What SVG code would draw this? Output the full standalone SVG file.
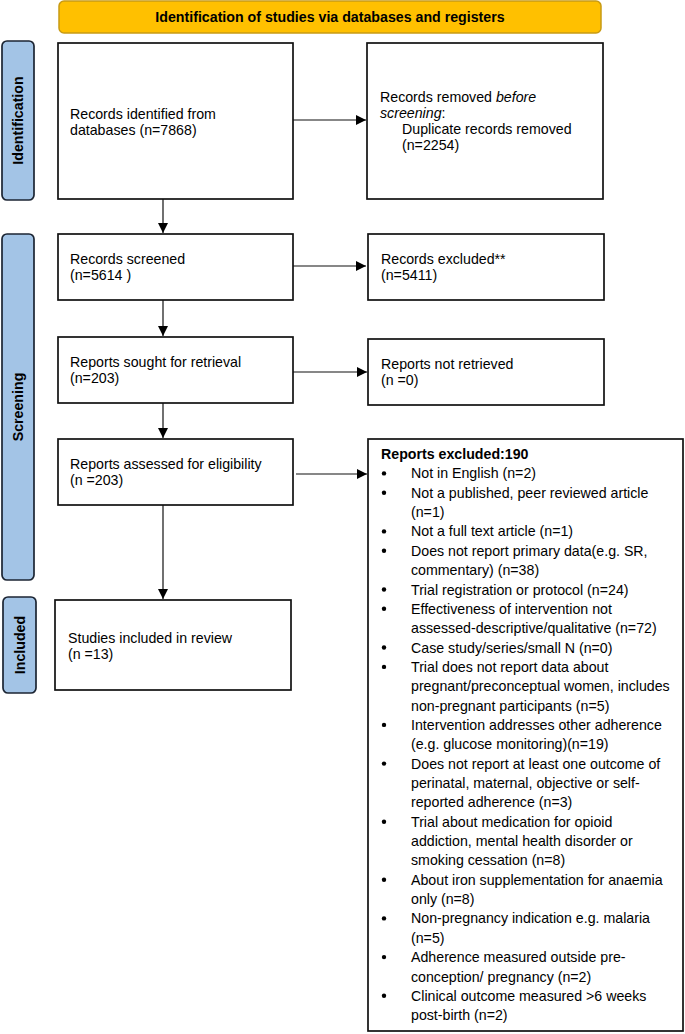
<svg xmlns="http://www.w3.org/2000/svg" width="685" height="1034" viewBox="0 0 685 1034">
<style>
text{font-family:"Liberation Sans",Arial,Helvetica,sans-serif;font-size:14.2px;fill:#000}
.b{font-weight:bold}
.box{fill:#fff;stroke:#111;stroke-width:1.7}
.side{fill:#a3c4e6;stroke:#1c2533;stroke-width:1.7}
.hdr{fill:#ffc000;stroke:#c89a14;stroke-width:1.5}
.conn line{stroke:#111;stroke-width:1.2}
.bul{fill:#000}
</style>
<defs>
<marker id="ah" viewBox="0 0 10 10" refX="10" refY="5" markerWidth="10" markerHeight="10" markerUnits="userSpaceOnUse" orient="auto">
<path d="M0,0 L10,5 L0,10 z" fill="#000"/>
</marker>
</defs>
<rect width="685" height="1034" fill="#fff"/>

<g id="header">
<rect class="hdr" x="59" y="1" width="542" height="32" rx="5"/>
<text class="b" x="330" y="22" text-anchor="middle">Identification of studies via databases and registers</text>
</g>

<g id="side-identification">
<rect class="side" x="2" y="41" width="32" height="159" rx="5"/>
<text class="b" transform="translate(23,120.5) rotate(-90)" text-anchor="middle">Identification</text>
</g>
<g id="side-screening">
<rect class="side" x="2" y="234" width="32" height="346" rx="5"/>
<text class="b" transform="translate(23,407) rotate(-90)" text-anchor="middle">Screening</text>
</g>
<g id="side-included">
<rect class="side" x="3" y="597" width="33" height="96" rx="5"/>
<text class="b" transform="translate(24.5,645) rotate(-90)" text-anchor="middle">Included</text>
</g>

<g id="records-identified">
<rect class="box" x="58" y="43" width="235" height="156"/>
<text x="70" y="118.5">Records identified from</text>
<text x="70" y="135">databases (n=7868)</text>
</g>
<g id="records-removed">
<rect class="box" x="367" y="43" width="236" height="156"/>
<text x="380" y="102">Records removed <tspan font-style="italic">before</tspan></text>
<text x="380" y="118"><tspan font-style="italic">screening</tspan>:</text>
<text x="402" y="134">Duplicate records removed</text>
<text x="402" y="150">(n=2254)</text>
</g>
<g id="records-screened">
<rect class="box" x="58" y="234" width="235" height="66"/>
<text x="70" y="264">Records screened</text>
<text x="70" y="280">(n=5614 )</text>
</g>
<g id="records-excluded">
<rect class="box" x="368" y="234" width="236" height="66"/>
<text x="381" y="264">Records excluded**</text>
<text x="381" y="280">(n=5411)</text>
</g>
<g id="reports-sought">
<rect class="box" x="58" y="337" width="235" height="66"/>
<text x="70" y="367">Reports sought for retrieval</text>
<text x="70" y="383">(n=203)</text>
</g>
<g id="reports-not-retrieved">
<rect class="box" x="368" y="339" width="236" height="66"/>
<text x="381" y="369">Reports not retrieved</text>
<text x="381" y="385">(n =0)</text>
</g>
<g id="reports-assessed">
<rect class="box" x="58" y="439" width="235" height="66"/>
<text x="70" y="469">Reports assessed for eligibility</text>
<text x="70" y="485">(n =203)</text>
</g>
<g id="studies-included">
<rect class="box" x="55" y="600" width="236" height="90"/>
<text x="68" y="643">Studies included in review</text>
<text x="68" y="659">(n =13)</text>
</g>
<g id="reports-excluded">
<rect class="box" x="368" y="439" width="315" height="592"/>
<text class="b" x="381" y="459">Reports excluded:190</text>
<circle class="bul" cx="384" cy="473.4" r="2.2"/><text x="411" y="478.4">Not in English (n=2)</text>
<circle class="bul" cx="384" cy="492.7" r="2.2"/><text x="411" y="497.7">Not a published, peer reviewed article</text>
<text x="411" y="517.1">(n=1)</text>
<circle class="bul" cx="384" cy="531.4" r="2.2"/><text x="411" y="536.4">Not a full text article (n=1)</text>
<circle class="bul" cx="384" cy="550.8" r="2.2"/><text x="411" y="555.8">Does not report primary data(e.g. SR,</text>
<text x="411" y="575.1">commentary) (n=38)</text>
<circle class="bul" cx="384" cy="589.5" r="2.2"/><text x="411" y="594.5">Trial registration or protocol (n=24)</text>
<circle class="bul" cx="384" cy="608.8" r="2.2"/><text x="411" y="613.8">Effectiveness of intervention not</text>
<text x="411" y="633.2">assessed-descriptive/qualitative (n=72)</text>
<circle class="bul" cx="384" cy="647.5" r="2.2"/><text x="411" y="652.5">Case study/series/small N (n=0)</text>
<circle class="bul" cx="384" cy="666.9" r="2.2"/><text x="411" y="671.9">Trial does not report data about</text>
<text x="411" y="691.2">pregnant/preconceptual women, includes</text>
<text x="411" y="710.6">non-pregnant participants (n=5)</text>
<circle class="bul" cx="384" cy="724.9" r="2.2"/><text x="411" y="729.9">Intervention addresses other adherence</text>
<text x="411" y="749.3">(e.g. glucose monitoring)(n=19)</text>
<circle class="bul" cx="384" cy="763.6" r="2.2"/><text x="411" y="768.6">Does not report at least one outcome of</text>
<text x="411" y="788">perinatal, maternal, objective or self-</text>
<text x="411" y="807.3">reported adherence (n=3)</text>
<circle class="bul" cx="384" cy="821.7" r="2.2"/><text x="411" y="826.7">Trial about medication for opioid</text>
<text x="411" y="846">addiction, mental health disorder or</text>
<text x="411" y="865.4">smoking cessation (n=8)</text>
<circle class="bul" cx="384" cy="879.7" r="2.2"/><text x="411" y="884.7">About iron supplementation for anaemia</text>
<text x="411" y="904.1">only (n=8)</text>
<circle class="bul" cx="384" cy="918.4" r="2.2"/><text x="411" y="923.4">Non-pregnancy indication e.g. malaria</text>
<text x="411" y="942.8">(n=5)</text>
<circle class="bul" cx="384" cy="957.1" r="2.2"/><text x="411" y="962.1">Adherence measured outside pre-</text>
<text x="411" y="981.5">conception/ pregnancy (n=2)</text>
<circle class="bul" cx="384" cy="995.8" r="2.2"/><text x="411" y="1000.8">Clinical outcome measured &gt;6 weeks</text>
<text x="411" y="1020.2">post-birth (n=2)</text>
</g>

<g id="connectors" class="conn">
<line x1="293" y1="120" x2="366" y2="120" marker-end="url(#ah)"/>
<line x1="163" y1="199" x2="163" y2="233" marker-end="url(#ah)"/>
<line x1="293" y1="266" x2="366" y2="266" marker-end="url(#ah)"/>
<line x1="163" y1="300" x2="163" y2="336" marker-end="url(#ah)"/>
<line x1="293" y1="372" x2="367" y2="372" marker-end="url(#ah)"/>
<line x1="163" y1="403" x2="163" y2="438" marker-end="url(#ah)"/>
<line x1="296" y1="474" x2="367" y2="474" marker-end="url(#ah)"/>
<line x1="163" y1="505" x2="163" y2="599" marker-end="url(#ah)"/>
</g>
</svg>
